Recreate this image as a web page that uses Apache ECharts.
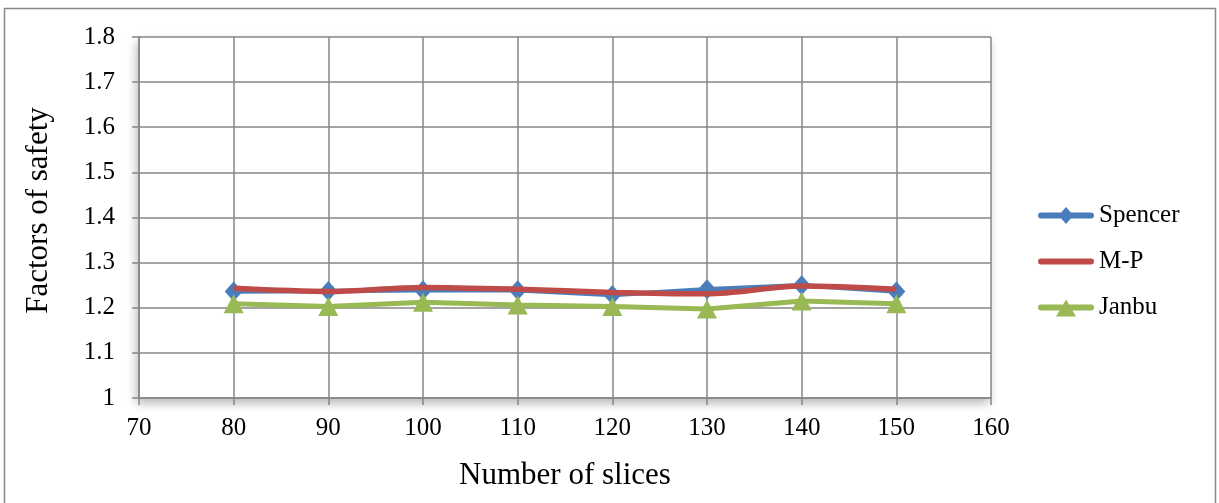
<!DOCTYPE html>
<html>
<head>
<meta charset="utf-8">
<script src="https://cdn.jsdelivr.net/npm/echarts@6/dist/echarts.min.js"></script>
<style>
  html, body { margin: 0; padding: 0; background: #fff; }
  #chart { width: 1219px; height: 503px; }
</style>
</head>
<body>
<div id="chart"></div>
<script>
// Number of slices used in each analysis
const slices = [80, 90, 100, 110, 120, 130, 140, 150];
// Factors of safety per method
const spencer = [1.236, 1.237, 1.239, 1.239, 1.228, 1.241, 1.250, 1.236];
const morgensternPrice = [1.243, 1.236, 1.245, 1.241, 1.234, 1.231, 1.248, 1.241];
const janbu = [1.209, 1.203, 1.212, 1.206, 1.203, 1.197, 1.215, 1.209];

const seriesNames = ['Spencer', 'M-P', 'Janbu'];
const seriesColors = ['#4a7ebb', '#be4b48', '#98b954'];

const font = '"Liberation Serif", "Times New Roman", serif';
const pair = (vals) => slices.map((s, i) => [s, vals[i]]);

// Legend keys: a thick rounded stroke with the series marker on top.
// The two tiny corner stubs pin the icon box to 56x20 so nothing is stretched.
const box = ' M0 0 L0.01 0 L0 0.01 Z M56 20 L55.99 20 L56 19.99 Z';
const bar = 'M3 7 L53 7 A3 3 0 0 1 53 13 L3 13 A3 3 0 0 1 3 7 Z';
const iconSpencer = 'path://' + bar + ' M28 1.5 L35.5 10 L28 18.5 L20.5 10 Z' + box;
const iconMP = 'path://' + bar + box;
const iconJanbu = 'path://' + bar + ' M28 2 L38 19 L18 19 Z' + box;

const chart = echarts.init(document.getElementById('chart'));
chart.setOption({
  animation: false,
  backgroundColor: '#fff',
  textStyle: { fontFamily: font },
  graphic: [
    {
      type: 'rect',
      shape: { x: 4.5, y: 8.5, width: 1211, height: 520 },
      style: { fill: 'none', stroke: '#898989', lineWidth: 1.5 },
      silent: true,
      z: -20
    },
    {
      // plot-area panel with its soft drop shadow
      type: 'rect',
      shape: { x: 139, y: 37, width: 852, height: 361 },
      style: {
        fill: '#fff',
        shadowColor: 'rgba(0,0,0,0.3)',
        shadowBlur: 10,
        shadowOffsetX: -2,
        shadowOffsetY: 5
      },
      silent: true,
      z: -10
    }
  ],
  grid: {
    left: 139, right: 228, top: 37, bottom: 105,
    show: false
  },
  legend: {
    orient: 'vertical',
    left: 1033,
    top: 198,
    itemWidth: 56,
    itemHeight: 20,
    itemGap: 21,
    symbolKeepAspect: false,
    itemStyle: { borderWidth: 0 },
    data: [
      { name: seriesNames[0], icon: iconSpencer },
      { name: seriesNames[1], icon: iconMP },
      { name: seriesNames[2], icon: iconJanbu }
    ],
    textStyle: { fontFamily: font, fontSize: 25, color: '#000' }
  },
  xAxis: {
    type: 'value',
    min: 70, max: 160, interval: 10,
    name: 'Number of slices',
    nameLocation: 'middle',
    nameGap: 62,
    nameTextStyle: { fontFamily: font, fontSize: 31, color: '#000' },
    axisLine: { show: true, lineStyle: { color: '#868686', width: 1.5 } },
    axisTick: { show: true, length: 7, lineStyle: { color: '#868686', width: 1.5 } },
    axisLabel: { fontFamily: font, fontSize: 25, color: '#000', margin: 18 },
    splitLine: { show: true, lineStyle: { color: '#868686', width: 1.5 } }
  },
  yAxis: {
    type: 'value',
    min: 1, max: 1.8, interval: 0.1,
    name: 'Factors of safety',
    nameLocation: 'middle',
    nameGap: 85,
    nameTextStyle: { fontFamily: font, fontSize: 31, color: '#000', padding: [0, 0, 0, 14] },
    axisLine: { show: true, lineStyle: { color: '#868686', width: 1.5 } },
    axisTick: { show: true, length: 7, lineStyle: { color: '#868686', width: 1.5 } },
    axisLabel: {
      fontFamily: font, fontSize: 25, color: '#000', margin: 24,
      formatter: (v) => (Math.round(v * 10) / 10).toString()
    },
    splitLine: { show: true, lineStyle: { color: '#868686', width: 1.5 } }
  },
  series: [
    {
      name: seriesNames[0], type: 'line', data: pair(spencer),
      symbol: 'diamond', symbolSize: [18, 20],
      color: seriesColors[0],
      lineStyle: { width: 4.5, color: seriesColors[0] },
      itemStyle: { color: seriesColors[0] }, z: 2
    },
    {
      name: seriesNames[1], type: 'line', data: pair(morgensternPrice),
      symbol: 'none', smooth: 0.3,
      color: seriesColors[1],
      lineStyle: { width: 5.5, color: seriesColors[1] },
      itemStyle: { color: seriesColors[1] }, z: 3
    },
    {
      name: seriesNames[2], type: 'line', data: pair(janbu),
      symbol: 'triangle', symbolSize: [20, 19],
      color: seriesColors[2],
      lineStyle: { width: 5, color: seriesColors[2] },
      itemStyle: { color: seriesColors[2] }, z: 4
    }
  ]
});
</script>
</body>
</html>
